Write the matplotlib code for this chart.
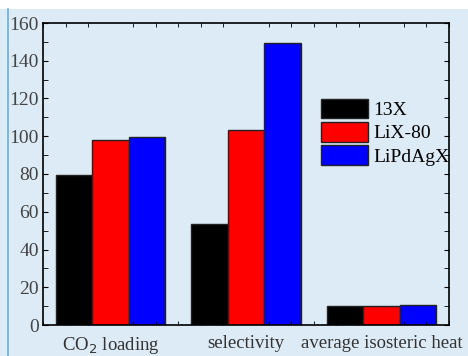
import numpy as np
import matplotlib
matplotlib.use("Agg")
import matplotlib.pyplot as plt
from matplotlib.ticker import MultipleLocator
from matplotlib.patches import Rectangle
from matplotlib.lines import Line2D

categories = ["CO$_2$ loading", "selectivity", "average isosteric heat"]
series_names = ["13X", "LiX-80", "LiPdAgX"]
vals_13x = [79.5, 53.5, 10.0]
vals_lix = [98.0, 103.3, 10.0]
vals_lipdagx = [99.5, 149.4, 10.6]
colors = ["#000000", "#ff0000", "#0000ff"]

plt.rcParams['font.family'] = ['Liberation Serif', 'DejaVu Serif']

bg = "#dcebf6"
fig = plt.figure(figsize=(4.68, 3.56), dpi=100, facecolor=bg)
# white strip along the top and thin blue line at left
fig.patches.append(Rectangle((0, 1 - 9/356), 1, 9/356, transform=fig.transFigure,
                             facecolor="white", edgecolor="none", zorder=0))
fig.lines.append(Line2D([8/468, 8/468], [0, 1 - 9/356], transform=fig.transFigure,
                        color="#6aaedc", lw=1.2))

ax = fig.add_axes([43/468, 31/356, 406/468, 302/356])
ax.set_facecolor(bg)

x = np.arange(len(categories))
w = 0.27
for i, (vals, name) in enumerate(zip([vals_13x, vals_lix, vals_lipdagx], series_names)):
    ax.bar(x + (i - 1) * w, vals, w, color=colors[i], edgecolor="#222222",
           linewidth=1.0, label=name)

ax.set_xlim(-0.5, 2.5)
ax.set_ylim(0, 160)
ax.yaxis.set_major_locator(MultipleLocator(20))
ax.yaxis.set_minor_locator(MultipleLocator(10))
ax.xaxis.set_minor_locator(MultipleLocator(1/6))
ax.set_xticks(x)
ax.set_xticklabels(categories)
ax.tick_params(axis="x", which="major", length=0, pad=7, labelsize=13.5, labelcolor="#333333")
ax.tick_params(axis="both", which="both", direction="in", top=True, right=True)
ax.tick_params(axis="y", which="both", length=3.5, labelsize=14, labelcolor="#444444", pad=3)
ax.tick_params(axis="x", which="minor", length=3)
for s in ax.spines.values():
    s.set_linewidth(1.2)

ax.legend(loc="upper left", bbox_to_anchor=(0.685, 0.748), frameon=False,
          handlelength=2.4, handleheight=1.15, labelspacing=0.15, handletextpad=0.3,
          borderpad=0, borderaxespad=0, fontsize=14)

fig.savefig("out.png", dpi=100, facecolor=bg)
